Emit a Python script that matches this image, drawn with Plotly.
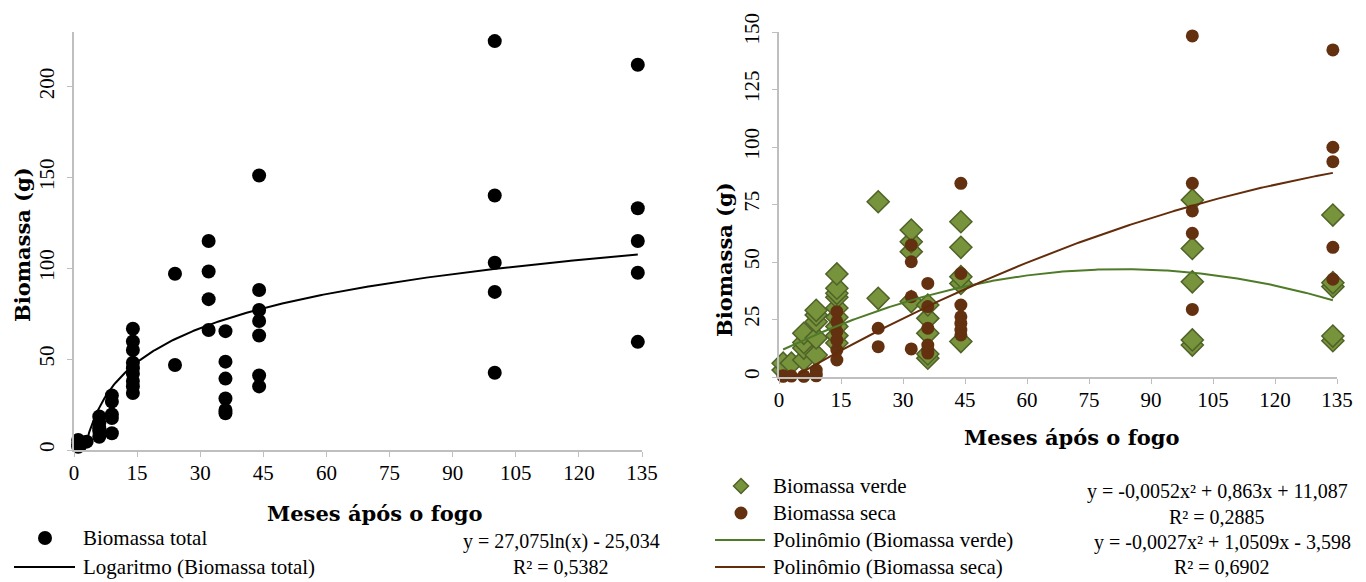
import numpy as np
import plotly.graph_objects as go

# ---------------- data ----------------
# Left panel: Biomassa total (g) by months after fire
tot_x = [1, 1, 1, 3,
         6, 6, 6, 6, 6,
         9, 9, 9, 9, 9,
         14, 14, 14, 14, 14, 14, 14, 14, 14,
         24, 24,
         32, 32, 32, 32,
         36, 36, 36, 36, 36, 36,
         44, 44, 44, 44, 44, 44, 44,
         100, 100, 100, 100, 100,
         134, 134, 134, 134, 134]
tot_y = [1.8, 3.0, 5.5, 4.6,
         7.3, 10.5, 12.0, 14.7, 18.4,
         9.2, 17.6, 19.5, 26.6, 30.0,
         31.4, 35.0, 38.0, 42.0, 45.0, 48.0, 55.0, 59.7, 66.7,
         46.8, 97.0,
         66.0, 83.0, 98.2, 115.0,
         20.2, 22.0, 28.3, 39.3, 48.6, 65.4,
         35.0, 41.0, 63.0, 71.0, 77.0, 88.0, 151.0,
         42.5, 87.0, 103.0, 140.0, 225.0,
         59.5, 97.5, 115.0, 133.0, 212.0]

# Right panel: Biomassa verde (diamonds)
verde_x = [1, 1, 3,
           6, 6, 6, 6,
           9, 9, 9, 9, 9,
           14, 14, 14, 14, 14, 14, 14, 14, 14,
           24, 24,
           32, 32, 32, 32,
           36, 36, 36, 36, 36,
           44, 44, 44, 44, 44,
           100, 100, 100, 100, 100,
           134, 134, 134, 134, 134]
verde_y = [3.0, 6.0, 6.0,
           7.4, 12.6, 15.0, 19.0,
           9.6, 17.0, 24.0, 27.0, 29.0,
           14.8, 18.0, 22.0, 26.0, 30.0, 34.7, 36.4, 38.6, 44.8,
           34.2, 76.2,
           32.8, 54.5, 58.8, 63.9,
           8.2, 19.0, 25.5, 31.3, 10.0,
           15.4, 40.7, 43.6, 56.4, 67.5,
           13.9, 16.1, 41.4, 55.9, 77.0,
           15.8, 17.8, 39.3, 41.0, 70.4]

# Right panel: Biomassa seca (circles)
seca_x = [1, 1, 3,
          6, 6,
          9, 9, 9,
          14, 14, 14, 14, 14, 14,
          24, 24,
          32, 32, 32, 32,
          36, 36, 36, 36, 36, 36,
          44, 44, 44, 44, 44, 44, 44,
          100, 100, 100, 100, 100,
          134, 134, 134, 134, 134]
seca_y = [0.3, 0.5, 0.4,
          0.3, 0.5,
          0.5, 1.5, 3.0,
          7.4, 11.7, 16.0, 19.7, 24.0, 28.4,
          13.2, 21.2,
          12.2, 34.9, 50.1, 57.4,
          10.4, 11.7, 13.9, 21.2, 30.6, 40.7,
          18.3, 20.4, 23.3, 26.2, 31.3, 45.0, 84.2,
          29.4, 62.5, 72.2, 84.2, 148.3,
          42.5, 56.4, 93.6, 99.9, 142.2]

# Trendline equations printed on the chart
log_a, log_b = 27.075, -25.034                 # y = a ln(x) + b
verde_c = [-0.0052, 0.863, 11.087]             # y = c0 x^2 + c1 x + c2
seca_c = [-0.0027, 1.0509, -3.598]

x_ticks = [0, 15, 30, 45, 60, 75, 90, 105, 120, 135]
y_ticks_left = [0, 50, 100, 150, 200]
y_ticks_right = [0, 25, 50, 75, 100, 125, 150]

names_left = ["Biomassa total", "Logaritmo (Biomassa total)"]
names_right = ["Biomassa verde", "Biomassa seca",
               "Polinômio (Biomassa verde)", "Polinômio (Biomassa seca)"]
eq_left = ["y = 27,075ln(x) - 25,034", "R² = 0,5382"]
eq_right = ["y = -0,0052x² + 0,863x + 11,087", "R² = 0,2885",
            "y = -0,0027x² + 1,0509x - 3,598", "R² = 0,6902"]

# ---------------- styling ----------------
SERIF = "Liberation Serif"
TITLE_FONT = "DejaVu Serif"
GREEN = "#77933C"
GREEN_EDGE = "#4F6228"
GREEN_LINE = "#4F7A28"
BROWN = "#633010"
BROWN_LINE = "#632C0A"
AXIS_GRAY = "#BFBFBF"

W, H = 1366, 582


def px(x):
    return x / W


def py(y):
    return 1 - y / H


fig = go.Figure()

tx_l = np.linspace(min(tot_x), max(tot_x), 300)
tx_r = np.linspace(min(verde_x), max(verde_x), 300)

fig.add_trace(go.Scatter(
    x=tot_x, y=tot_y, mode="markers", name=names_left[0],
    marker=dict(symbol="circle", size=14, color="black"),
    cliponaxis=False, xaxis="x", yaxis="y"))
fig.add_trace(go.Scatter(
    x=tx_l, y=log_a * np.log(tx_l) + log_b, mode="lines",
    name=names_left[1], line=dict(color="black", width=2),
    xaxis="x", yaxis="y"))
fig.add_trace(go.Scatter(
    x=verde_x, y=verde_y, mode="markers", name=names_right[0],
    marker=dict(symbol="diamond", size=17, color=GREEN,
                line=dict(color=GREEN_EDGE, width=1.5)),
    cliponaxis=False, xaxis="x2", yaxis="y2"))
fig.add_trace(go.Scatter(
    x=seca_x, y=seca_y, mode="markers", name=names_right[1],
    marker=dict(symbol="circle", size=13, color=BROWN),
    cliponaxis=False, xaxis="x2", yaxis="y2"))
fig.add_trace(go.Scatter(
    x=tx_r, y=np.polyval(verde_c, tx_r), mode="lines",
    name=names_right[2], line=dict(color=GREEN_LINE, width=2),
    xaxis="x2", yaxis="y2"))
fig.add_trace(go.Scatter(
    x=tx_r, y=np.polyval(seca_c, tx_r), mode="lines",
    name=names_right[3], line=dict(color=BROWN_LINE, width=2),
    xaxis="x2", yaxis="y2"))

tickfont = dict(family=SERIF, size=21, color="black")
common_x = dict(tickmode="array", tickvals=x_ticks, range=[0, 135],
                showline=True, linecolor=AXIS_GRAY, linewidth=1.5,
                ticks="outside", ticklen=5, tickcolor=AXIS_GRAY,
                showgrid=False, zeroline=False, tickfont=tickfont,
                automargin=False, ticklabelstandoff=-2)
common_y = dict(showline=True, linecolor=AXIS_GRAY, linewidth=1.5,
                ticks="outside", ticklen=5, tickcolor=AXIS_GRAY,
                showgrid=False, zeroline=False, tickfont=tickfont,
                tickangle=-90, automargin=False, ticklabelstandoff=5)

fig.update_layout(
    width=W, height=H,
    margin=dict(l=0, r=0, t=0, b=0),
    paper_bgcolor="white", plot_bgcolor="white",
    font=dict(family=SERIF, size=21, color="black"),
    showlegend=False,
    xaxis=dict(domain=[px(74), px(642)], anchor="y", **common_x),
    yaxis=dict(domain=[py(450), py(32)], anchor="x",
               range=[0, 230], tickmode="array", tickvals=y_ticks_left,
               **common_y),
    xaxis2=dict(domain=[px(779), px(1337)], anchor="y2", **common_x),
    yaxis2=dict(domain=[py(377), py(32)], anchor="x2",
                range=[0, 150], tickmode="array", tickvals=y_ticks_right,
                **common_y),
)

# axis titles
title_font = dict(family=TITLE_FONT, size=21, color="black")
titles = [
    dict(text="<b>Meses ápós o fogo</b>", x=px(374), y=py(513)),
    dict(text="<b>Meses ápós o fogo</b>", x=px(1071), y=py(437)),
    dict(text="<b>Biomassa (g)</b>", x=px(22), y=py(245), textangle=-90),
    dict(text="<b>Biomassa (g)</b>", x=px(724), y=py(260), textangle=-90),
]
for a in titles:
    fig.add_annotation(xref="paper", yref="paper", xanchor="center",
                       yanchor="middle", showarrow=False, font=title_font, **a)

# trendline equations
eq_font = dict(family=SERIF, size=20, color="black")
eq_pos = [(561, 541), (561, 567), (1217, 491), (1217, 517), (1222, 542), (1222, 567)]
for t, (xp, yp) in zip(eq_left + eq_right, eq_pos):
    fig.add_annotation(text=t, xref="paper", yref="paper", x=px(xp),
                       y=py(yp), xanchor="center", yanchor="middle",
                       showarrow=False, font=eq_font)

# legends (keys + labels, laid out like the reference)
leg_font = dict(family=SERIF, size=21, color="black")
leg_items = [
    (names_left[0], 83, 538, "circle", "black", None, 14, 45),
    (names_left[1], 83, 567, "line", "black", None, (14, 75), None),
    (names_right[0], 773, 486, "diamond", GREEN, GREEN_EDGE, 15, 741),
    (names_right[1], 773, 513, "circle", BROWN, None, 13, 741),
    (names_right[2], 773, 540, "line", GREEN_LINE, None, (715, 765), None),
    (names_right[3], 773, 567, "line", BROWN_LINE, None, (715, 765), None),
]
for name, tx, ty, kind, col, edge, size, cx in leg_items:
    fig.add_annotation(text=name, xref="paper", yref="paper", x=px(tx - 2),
                       y=py(ty), xanchor="left", yanchor="middle",
                       showarrow=False, font=leg_font)
    if kind == "line":
        fig.add_shape(type="line", xref="paper", yref="paper",
                      x0=px(size[0]), x1=px(size[1]), y0=py(ty), y1=py(ty),
                      line=dict(color=col, width=2))
    elif kind == "circle":
        r = size / 2
        fig.add_shape(type="circle", xref="paper", yref="paper",
                      xsizemode="pixel", ysizemode="pixel",
                      xanchor=px(cx), yanchor=py(ty),
                      x0=-r, x1=r, y0=-r, y1=r,
                      fillcolor=col, line=dict(width=0))
    else:
        r = size / 2
        fig.add_shape(type="path", xref="paper", yref="paper",
                      xsizemode="pixel", ysizemode="pixel",
                      xanchor=px(cx), yanchor=py(ty),
                      path=f"M {-r} 0 L 0 {r} L {r} 0 L 0 {-r} Z",
                      fillcolor=col, line=dict(color=edge, width=1.5))

fig.write_html("out.html", config={"displayModeBar": False},
               post_script="document.body.style.margin='0px';")
